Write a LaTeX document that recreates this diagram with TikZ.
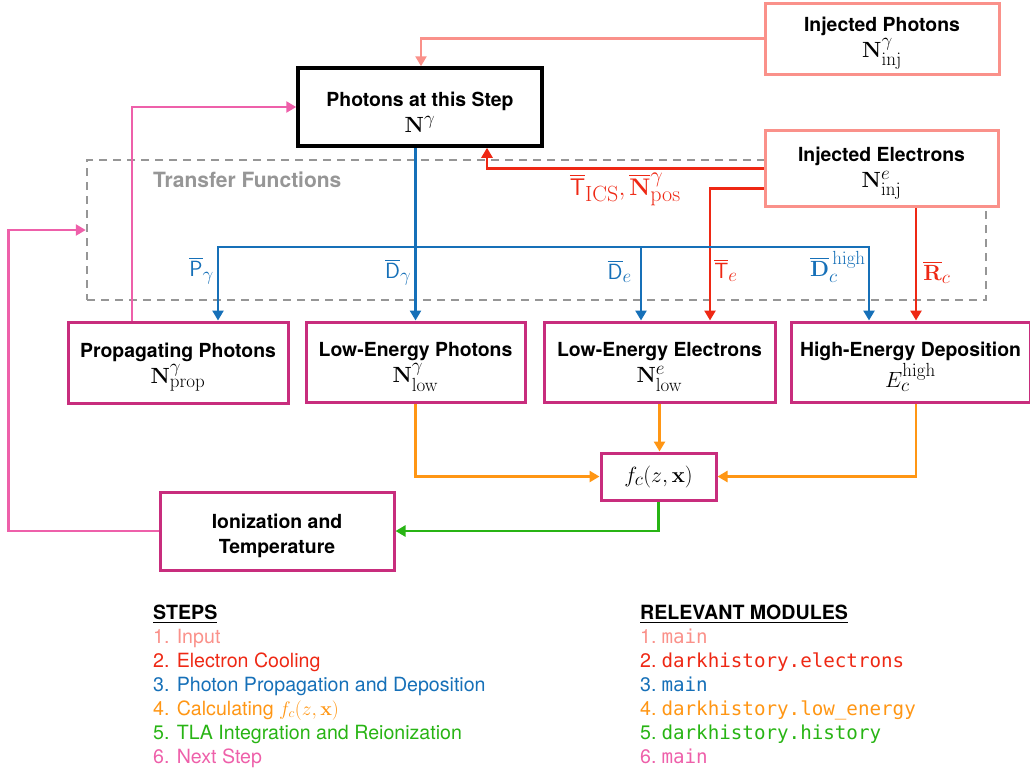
\RequirePackage{fix-cm}
\documentclass[tikz,border=0pt]{standalone}
\usepackage[no-math]{fontspec}
\setmainfont{TeX Gyre Heros}
\setmonofont{DejaVu Sans Mono}
\usepackage{amsmath}
\usetikzlibrary{arrows.meta, positioning, calc}

\definecolor{injcol}{RGB}{250,145,138}
\definecolor{elcol}{RGB}{238,40,20}
\definecolor{phcol}{RGB}{22,112,184}
\definecolor{fccol}{RGB}{255,150,20}
\definecolor{tlacol}{RGB}{40,180,20}
\definecolor{nextcol}{RGB}{238,96,170}
\definecolor{outcol}{RGB}{200,45,125}
\definecolor{tfcol}{RGB}{150,150,150}

\DeclareMathSizes{22}{22}{19}{14}
\DeclareMathSizes{24}{24}{22}{16}
\newcommand{\boxmath}[1]{{\fontsize{22}{25}\selectfont$#1$}}
\newcommand{\tstrut}{\rule{0pt}{24pt}}
\newcommand{\boxlabel}[2]{\tstrut#1\\[1pt]\boxmath{#2}}

\begin{document}
\begin{tikzpicture}[x=1pt, y=-1pt,
    box/.style = {
        draw,
        fill=white,
        align=center,
        inner sep=0pt,
        font=\fontsize{19.4}{25}\selectfont\bfseries
    },
    inbox/.style = {box, draw=injcol, line width=3pt},
    stepbox/.style = {box, draw=black, line width=3.5pt},
    outbox/.style = {box, draw=outcol, line width=3pt},
    tfbox/.style = {
        draw=tfcol,
        line width=2.5pt,
        dash pattern=on 8pt off 6pt
    },
    flow/.style = {line width=2.6pt, ->, >={Triangle[length=10pt,width=11pt]}},
    lbl/.style = {font=\fontsize{22}{25}\selectfont, inner sep=3pt},
    legend/.style = {anchor=base west, inner sep=0pt, font=\fontsize{19.6}{24}\selectfont}
]
    \useasboundingbox (0,0) rectangle (1030,772);

    % Transfer functions frame
    \node[tfbox, minimum width=899pt, minimum height=140pt] (tf) at (536.5,230) {};
    \node[anchor=west, inner sep=0pt, text=tfcol, font=\fontsize{21}{23}\selectfont\bfseries] (tftitle) at (153,180) {Transfer Functions};

    % Input and current step
    \node[stepbox, minimum width=244pt, minimum height=78pt] (photons) at (420,107) {\boxlabel{Photons at this Step}{\mathbf{N}^{\gamma}}};
    \node[inbox, minimum width=234pt, minimum height=71pt] (injph) at (882,38.5) {\boxlabel{Injected Photons}{\mathbf{N}^{\gamma}_{\mathrm{inj}}}};
    \node[inbox, minimum width=233pt, minimum height=76pt] (injel) at (881.5,168.5) {\boxlabel{Injected Electrons}{\mathbf{N}^{e}_{\mathrm{inj}}}};

    % Outputs
    \node[outbox, minimum width=220pt, minimum height=81pt] (prop) at (178,362.5) {\boxlabel{Propagating Photons}{\mathbf{N}^{\gamma}_{\mathrm{prop}}}};
    \node[outbox, minimum width=219pt, minimum height=80pt] (lowph) at (415.5,362) {\boxlabel{Low-Energy Photons}{\mathbf{N}^{\gamma}_{\mathrm{low}}}};
    \node[outbox, minimum width=231pt, minimum height=80pt] (lowel) at (659.5,362) {\boxlabel{Low-Energy Electrons}{\mathbf{N}^{e}_{\mathrm{low}}}};
    \node[outbox, minimum width=239pt, minimum height=80pt] (highdep) at (910.5,362) {\boxlabel{High-Energy Deposition}{E_c^{\mathrm{high}}}};
    \node[outbox, minimum width=115pt, minimum height=47pt] (fc) at (658.5,476.5) {\boxmath{f_c(z,\mathbf{x})}};
    \node[outbox, minimum width=234pt, minimum height=78pt] (ion) at (277,531) {\tstrut Ionization and\\Temperature};

    % 1. input
    \draw[flow, injcol] (injph.west) -| ([xshift=1pt]photons.north);

    % 2. electron cooling
    \draw[flow, elcol] (injel.west) -| node[pos=0.25, below, lbl, font=\fontsize{24}{26}\selectfont] {$\overline{\mathsf{T}}_{\mathrm{ICS}}, \overline{\mathbf{N}}^{\gamma}_{\mathrm{pos}}$} ([xshift=67pt]photons.south);
    \draw[flow, elcol] ([yshift=-20pt]injel.west) -| node[pos=0.81, right, lbl] {$\overline{\mathsf{T}}_e$} ([xshift=50.5pt]lowel.north);
    \draw[flow, elcol] ([xshift=34.5pt]injel.south) -- node[pos=0.57, right, lbl, inner sep=6pt] {$\overline{\mathbf{R}}_c$} ([xshift=5.5pt]highdep.north);

    % 3. photon propagation and deposition
    \coordinate (busL) at (218,247);
    \coordinate (busM) at (641,247);
    \coordinate (busR) at (869,247);
    \draw[flow, phcol] (lowph.north |- photons.south) -- node[pos=0.72, left, lbl] {$\overline{\mathsf{D}}_\gamma$} (lowph.north);
    \draw[flow, phcol, <->] (busL |- prop.north) -- node[pos=0.68, left, lbl] {$\overline{\mathsf{P}}_\gamma$} (busL) -- (busR) -- node[pos=0.27, left, lbl, inner sep=2pt] {$\overline{\mathbf{D}}_c^{\,\mathrm{high}}$} (busR |- highdep.north);
    \draw[flow, phcol] (busM) -- node[pos=0.33, left, lbl, inner sep=8pt] {$\overline{\mathsf{D}}_e$} (busM |- lowel.north);

    % 4. calculating f_c
    \draw[flow, fccol] (lowph.south) |- (fc.west);
    \draw[flow, fccol] (lowel.south) -- (lowel.south |- fc.north);
    \draw[flow, fccol] ([xshift=5.5pt]highdep.south) |- (fc.east);

    % 5. TLA
    \draw[flow, tlacol] (fc.south) |- (ion.east);

    % 6. next step
    \draw[flow, nextcol] (ion.west) -- ++(-150,0) |- (tf.west);
    \draw[flow, nextcol] ([xshift=-46pt]prop.north) |- (photons.west);

    % Legend
    \node[legend, font=\fontsize{19.6}{24}\selectfont\bfseries] (steps) at (153,619) {\underline{STEPS}};
    \foreach \i/\stepcol/\txt in {1/injcol/Input, 2/elcol/Electron Cooling, 3/phcol/Photon Propagation and Deposition, 4/fccol/{Calculating $f_c(z,\mathbf{x})$}, 5/tlacol/TLA Integration and Reionization, 6/nextcol/Next Step}
        \node[legend, text=\stepcol] (step\i) at (153,{619+24*\i}) {\i. \txt};

    \node[legend, font=\fontsize{19.6}{24}\selectfont\bfseries] (modules) at (640,619) {\underline{RELEVANT MODULES}};
    \foreach \i/\stepcol/\modname in {1/injcol/main, 2/elcol/darkhistory.electrons, 3/phcol/main, 4/fccol/darkhistory.low\_energy, 5/tlacol/darkhistory.history, 6/nextcol/main}
        \node[legend, text=\stepcol] (mod\i) at (640,{619+24*\i}) {\i.\hspace{5pt}{\fontsize{19.2}{24}\selectfont\ttfamily\modname}};
\end{tikzpicture}
\end{document}
